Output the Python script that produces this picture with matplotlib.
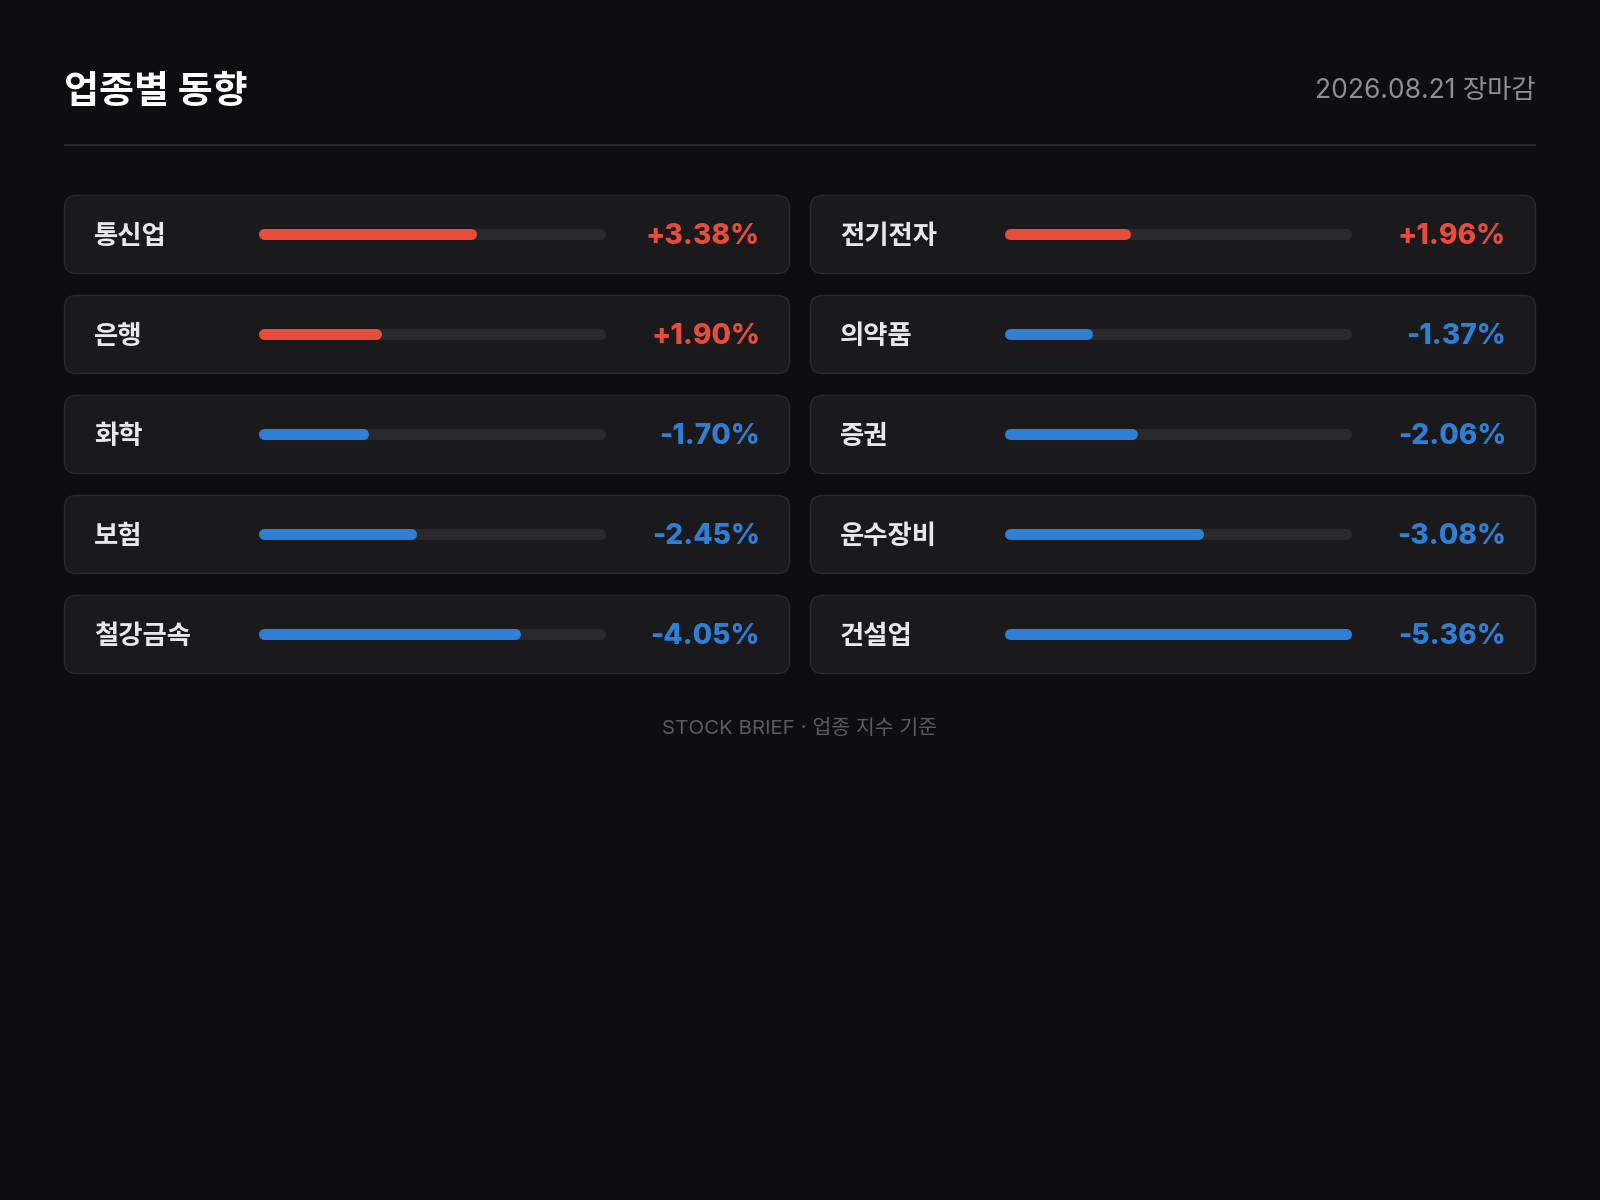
import matplotlib
matplotlib.use("Agg")
import matplotlib.pyplot as plt
from matplotlib.patches import FancyBboxPatch

plt.rcParams['font.family'] = ['Inter', 'Noto Sans CJK KR', 'DejaVu Sans']

title = "업종별 동향"
date_label = "2026.08.21 장마감"
footer = "STOCK BRIEF · 업종 지수 기준"

sectors = ["통신업", "전기전자", "은행", "의약품", "화학", "증권", "보험", "운수장비", "철강금속", "건설업"]
changes = [3.38, 1.96, 1.90, -1.37, -1.70, -2.06, -2.45, -3.08, -4.05, -5.36]

bg = "#0e0e10"
card_bg = "#1a1a1d"
card_edge = "#2a2a2e"
track = "#2a2a2d"
red = "#e84c3d"
blue = "#2f7fd6"

W, H = 1600, 1200
fig = plt.figure(figsize=(16, 12), dpi=100, facecolor=bg)
ax = fig.add_axes([0, 0, 1, 1])
ax.set_xlim(0, W)
ax.set_ylim(H, 0)
ax.axis("off")
ax.set_facecolor(bg)

# header
ax.text(64, 92, title, fontsize=27.4, fontweight="bold", color="#ffffff",
        ha="left", va="center", family=["Noto Sans CJK KR", "DejaVu Sans"])
ax.text(1536, 91, date_label, fontsize=19, color="#8e8e93", ha="right", va="center")
ax.plot([64, 1536], [145, 145], color="#2a2a2e", lw=1.5, solid_capstyle="butt")

# cards
left, gap, card_w, card_h, top, pitch = 64, 20, 726, 79, 195, 100
max_abs = max(abs(c) for c in changes)
bar_x0, bar_len = 194, 347
bar_px = 11
lw_pt = bar_px * 72 / 100

for i, (name, val) in enumerate(zip(sectors, changes)):
    col, row = i % 2, i // 2
    x0 = left + col * (card_w + gap)
    y0 = top + row * pitch
    yc = y0 + card_h / 2
    card = FancyBboxPatch((x0 + 0.5, y0 + 0.5), card_w - 1, card_h - 1,
                          boxstyle="round,pad=0,rounding_size=12",
                          facecolor=card_bg, edgecolor=card_edge, lw=1.0)
    ax.add_patch(card)

    ax.text(x0 + 30, yc + 2, name, fontsize=19, fontweight="semibold", color="#e8e8ea",
            ha="left", va="center", family=["Noto Sans CJK KR", "DejaVu Sans"])

    color = red if val > 0 else blue
    r = bar_px / 2
    bx = x0 + bar_x0
    ax.plot([bx + r, bx + bar_len - r], [yc - 0.5, yc - 0.5], color=track, lw=lw_pt,
            solid_capstyle="round")
    fill = bar_len * abs(val) / max_abs
    ax.plot([bx + r, bx + fill - r], [yc - 0.5, yc - 0.5], color=color, lw=lw_pt,
            solid_capstyle="round")

    ax.text(x0 + card_w - 30, yc + 2, f"{val:+.2f}%", fontsize=20.3, fontweight="heavy",
            color=color, ha="right", va="center")

ax.text(W / 2, 728, footer, fontsize=14.8, color="#5c5c60", ha="center", va="center")

fig.savefig("out.png", dpi=100, facecolor=bg)
